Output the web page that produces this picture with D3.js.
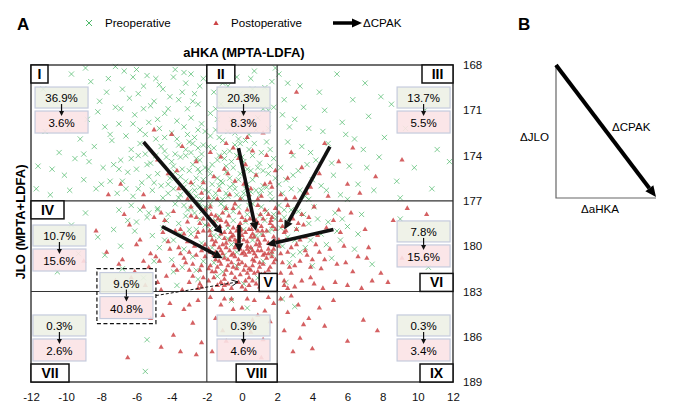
<!DOCTYPE html>
<html>
<head>
<meta charset="utf-8">
<script src="https://cdn.jsdelivr.net/npm/d3@7"></script>
<style>
  body { margin: 0; background: #fff; }
  svg { display: block; font-family: "Liberation Sans", Arial, sans-serif; }
</style>
</head>
<body>
<svg id="chart" width="680" height="417"></svg>
<script>
// zone names and percentages (pre -> post)
const zones = ["I", "II", "III", "IV", "V", "VI", "VII", "VIII", "IX"];
const prePct = [36.9, 20.3, 13.7, 10.7, 9.6, 7.8, 0.3, 0.3, 0.3];
const postPct = [3.6, 8.3, 5.5, 15.6, 40.8, 15.6, 2.6, 4.6, 3.4];

const xTicks = [-12, -10, -8, -6, -4, -2, 0, 2, 4, 6, 8, 10, 12];
const yTicks = [168, 171, 174, 177, 180, 183, 186, 189];
const zoneX = [-2, 2];
const zoneY = [177, 183];

// preoperative points [aHKA, JLO]
const preop = [
  [-11.6,174.7],[-11.2,172.4],[-10.8,174.9],[-10.4,173.8],[-10.1,175.3],[-9.7,168.6],[-9.5,174.2],[-9.2,172.9],[-9.0,175.6],[-8.8,171.6],
  [-8.6,169.1],[-8.4,173.4],[-8.3,176.2],[-8.1,170.4],[-7.9,174.8],[-7.8,172.1],[-7.6,168.9],[-7.5,175.7],[-7.4,173.0],[-7.2,170.8],
  [-7.1,176.5],[-7.0,171.9],[-6.9,174.3],[-6.8,169.6],[-6.7,168.4],[-6.6,172.7],[-6.5,175.1],[-6.4,170.2],[-6.3,173.6],[-6.2,176.7],
  [-6.1,171.3],[-6.0,174.9],[-5.9,169.9],[-5.8,172.3],[-5.7,175.8],[-5.6,170.9],[-5.5,173.9],[-5.4,168.7],[-5.3,171.8],[-5.2,174.5],
  [-5.1,176.3],[-5.0,170.4],[-4.9,172.9],[-4.8,175.2],[-4.7,169.3],[-4.6,173.4],[-4.5,176.8],[-4.4,171.2],[-4.3,174.1],[-4.2,175.9],
  [-4.1,170.1],[-4.0,172.5],[-3.9,174.7],[-3.9,176.2],[-3.8,168.3],[-3.7,171.7],[-3.6,173.3],[-3.5,175.4],[-3.5,176.6],[-3.4,169.8],
  [-3.3,172.1],[-3.2,174.0],[-3.2,175.7],[-3.1,170.9],[-3.0,173.1],[-3.0,176.4],[-2.9,168.6],[-2.9,171.5],[-2.8,174.6],[-2.8,175.9],
  [-2.7,169.9],[-2.7,172.8],[-2.6,174.2],[-2.6,176.7],[-2.5,170.6],[-2.5,173.5],[-2.4,175.1],[-2.4,176.1],[-2.3,171.9],[-2.3,173.9],
  [-2.2,168.9],[-2.2,175.6],[-2.1,172.4],[-2.1,174.8],[-5.3,175.4],[-4.9,174.0],[-4.6,176.0],[-4.4,172.8],[-4.1,175.5],[-3.8,173.9],
  [-3.6,176.8],[-3.4,174.9],[-3.1,172.6],[-2.9,173.8],[-2.7,176.3],[-2.5,174.9],[-6.8,175.7],[-6.3,174.2],[-5.9,176.2],[-5.5,172.6],
  [-7.3,174.6],[-8.0,175.9],[-8.7,174.4],[-9.8,176.3],[-10.9,176.6],[-11.7,176.2],[-7.7,169.8],[-6.2,168.8],[-4.9,168.9],[-3.3,168.5],
  [-5.8,173.2],[-5.4,174.6],[-5.0,175.8],[-4.7,172.2],[-4.4,173.7],[-4.2,176.5],[-4.0,174.4],[-3.8,175.1],[-3.7,172.9],[-3.5,174.1],
  [-3.3,176.1],[-3.2,173.6],[-3.0,175.0],[-2.9,176.9],[-2.8,173.2],[-2.6,175.5],[-2.5,172.3],[-2.4,174.3],[-2.3,176.9],[-2.2,173.3],
  [-2.1,176.3],[-7.5,172.6],[-7.0,174.9],[-6.6,176.2],[-6.2,171.9],[-5.9,174.0],[-5.6,169.4],[-5.2,170.7],[-4.8,171.6],[-4.5,169.6],
  [-4.2,170.9],[-3.9,168.8],[-3.6,170.3],[-3.2,169.2],[-2.8,170.4],[-2.4,169.4],[-6.9,170.9],[-8.2,171.1],[-9.0,173.9],[-9.9,172.2],
  [-10.6,170.4],[-11.3,169.6],[-8.9,168.2],[-7.2,168.1],[-6.0,168.3],
  [-1.9,168.5],[-1.6,169.8],[-1.8,171.2],[-1.5,172.3],[-1.9,173.4],[-1.7,174.6],[-1.4,175.5],[-1.9,176.4],[-1.2,170.6],[-1.1,173.0],
  [-1.0,174.2],[-1.3,176.0],[-0.9,175.1],[-0.8,176.7],[-0.7,173.7],[-0.6,171.6],[-0.5,174.8],[-0.4,176.2],[-0.3,168.8],[-0.2,175.6],
  [-0.1,173.2],[0.0,176.8],[0.1,174.4],[0.2,170.2],[0.3,175.9],[0.4,172.6],[0.5,176.4],[0.6,174.0],[0.7,168.4],[0.8,175.3],
  [0.9,171.5],[1.0,176.6],[1.1,173.8],[1.2,175.0],[1.3,169.5],[1.4,176.1],[1.5,172.2],[1.6,174.7],[1.7,176.9],[1.8,170.8],
  [1.9,175.5],[-1.6,176.8],[-1.1,175.8],[-0.7,175.5],[-0.3,174.0],[0.2,176.2],[0.6,175.6],[1.1,176.3],[1.5,175.2],[-1.8,175.2],
  [-1.3,174.0],[-0.9,176.5],[-0.4,172.5],[0.4,173.6],[0.9,174.8],[1.6,173.6],[-1.5,170.9],[-0.1,169.9],[0.5,168.9],[1.9,168.2],
  [-0.8,169.4],[-1.9,174.9],[-1.8,172.7],[-1.7,175.9],[-1.6,173.5],[-1.5,176.5],[-1.4,174.3],[-1.3,172.8],[-1.2,175.7],[-1.1,176.9],
  [-1.0,173.8],[-0.9,174.7],[-0.8,172.4],[-0.7,176.1],[-0.6,174.4],[-0.5,175.9],[-0.4,173.3],[-0.3,176.6],[-0.2,172.9],[-0.1,175.2],
  [0.0,174.1],[0.1,176.5],[0.2,173.0],[0.3,174.9],[0.4,176.8],[0.5,175.0],[0.7,173.2],[0.8,176.3],[1.0,174.5],[1.2,176.0],
  [1.4,173.1],[1.6,176.5],[1.8,174.2],[-1.7,168.9],[-1.1,169.2],[-0.6,170.4],[0.0,171.3],[0.6,169.6],[1.2,170.9],[1.7,169.1],
  [-1.4,171.6],[0.8,172.3],[-0.2,171.9],[1.5,171.0],
  [2.1,168.6],[2.4,170.3],[2.6,173.1],[2.2,174.8],[2.8,176.2],[3.0,171.6],[3.2,175.0],[3.4,173.4],[3.6,176.7],[2.3,176.5],
  [2.9,174.0],[3.8,172.2],[4.0,175.6],[4.2,174.3],[4.5,176.0],[4.7,171.0],[3.3,169.4],[4.9,173.2],[5.2,175.3],[5.4,168.6],
  [5.6,176.6],[5.9,172.6],[6.1,174.7],[6.3,170.3],[6.6,175.9],[6.9,173.6],[7.2,171.4],[7.5,176.3],[7.8,174.1],[8.1,172.8],
  [8.5,170.6],[8.8,175.7],[9.3,172.2],[9.8,174.8],[10.4,171.0],[11.1,173.6],[11.8,174.4],[10.8,176.2],[9.0,176.8],[2.5,175.6],
  [4.4,169.8],[7.0,169.2],[2.7,172.1],[3.7,174.6],[2.3,171.3],[2.6,169.2],[3.5,170.8],[3.9,173.8],[4.6,172.4],[5.1,174.5],
  [5.7,171.8],[6.4,172.9],[7.1,174.8],[7.9,170.1],[2.1,175.9],[2.9,175.3],[3.3,176.3],[3.8,176.9],[4.8,176.3],[6.0,176.9],
  [-2.1,177.4],[-2.4,178.2],[-2.7,177.8],[-3.0,178.9],[-3.3,177.3],[-3.6,178.5],[-3.9,179.6],[-4.2,177.9],[-4.5,178.8],[-4.8,177.5],
  [-5.1,179.3],[-5.4,178.1],[-5.8,177.6],[-6.1,179.0],[-6.5,178.3],[-6.9,180.0],[-7.3,178.9],[-7.8,180.6],[-8.2,179.4],[-2.3,179.8],
  [-2.8,180.7],[-3.4,181.4],[-2.5,182.2],[-4.0,180.9],[-5.6,182.1],[-6.8,181.5],[-10.5,181.7],[-9.3,180.5],[-3.1,177.6],[-4.7,180.1],
  [-2.2,181.0],[-5.0,181.0],[-3.7,182.6],[-2.9,179.2],[-6.3,177.3],[-4.8,177.6],[-4.3,178.3],[-3.8,177.2],[-3.5,179.2],[-3.2,178.0],
  [-2.9,177.5],[-2.6,178.9],[-2.4,177.2],[-2.1,178.6],[-5.3,177.8],[-6.0,178.4],[-7.0,177.6],[-4.4,179.6],[-3.3,180.2],[-2.6,181.6],
  [-8.9,177.8],[-9.7,178.6],[-3.9,181.7],[-2.3,177.7],
  [-1.9,177.5],[-1.5,178.3],[-1.2,177.2],[-0.8,178.8],[-0.5,177.7],[-0.1,179.4],[0.3,177.9],[0.7,178.6],[1.1,177.4],[1.5,179.0],
  [1.8,177.9],[-1.7,180.1],[-1.0,180.6],[-0.3,181.3],[0.5,180.2],[1.2,181.0],[1.7,180.5],[-1.4,182.0],[0.1,182.5],[0.9,182.1],
  [1.6,182.7],[-0.6,179.9],[0.2,178.4],[-1.8,178.9],[1.9,178.2],[-0.9,177.6],[0.6,177.2],[1.3,178.3],[-1.1,181.7],[-1.8,177.2],
  [-1.6,179.3],[-1.3,178.0],[-1.0,177.4],[-0.8,179.5],[-0.5,178.3],[-0.2,177.4],[0.1,178.9],[0.4,177.3],[0.8,179.3],[1.0,178.0],
  [1.4,177.7],[1.7,178.9],[-1.6,181.1],[0.6,179.6],[-0.3,180.4],[1.1,179.2],[-1.3,179.4],
  [2.1,177.3],[2.4,178.1],[2.8,177.6],[3.1,178.9],[3.5,177.9],[3.8,178.5],[4.1,177.4],[4.5,179.2],[4.9,178.4],[5.3,177.8],
  [5.6,179.6],[6.0,178.7],[6.4,180.2],[6.8,177.9],[2.3,180.0],[2.7,181.1],[3.3,180.4],[4.0,181.3],[2.5,182.4],[7.4,181.2],
  [9.0,178.2],[10.6,181.4],[5.1,180.8],[3.0,179.6],[2.2,178.8],[2.6,179.4],[3.2,177.7],[3.6,180.1],[4.3,178.2],[4.8,179.9],
  [5.7,178.2],[6.6,179.2],[2.9,180.6],[3.9,179.6],[2.4,177.6],[5.4,179.0],
  [-5.4,186.2],[-5.5,188.3],[-0.6,183.6],[0.3,184.1],[2.3,183.5],[3.0,184.0]
];

// postoperative points [aHKA, JLO]
const postop = [
  [-1.8,177.4],[-1.1,177.8],[-0.4,177.2],[0.3,177.6],[0.9,177.3],[1.5,177.9],[1.9,177.5],[-1.5,178.0],[0.0,178.1],[1.2,178.2],
  [-1.9,178.6],[-1.4,178.9],[-0.9,178.4],[-0.5,178.8],[-0.1,178.5],[0.4,178.9],[0.8,178.3],[1.1,178.7],[1.6,178.5],[1.9,178.9],
  [-1.2,178.3],[0.6,178.6],[-0.3,179.0],[1.4,179.0],
  [-1.8,179.3],[-1.5,179.7],[-1.2,179.2],[-0.9,179.8],[-0.6,179.4],[-0.3,179.9],[0.0,179.3],[0.3,179.7],[0.6,179.2],[0.9,179.6],
  [1.2,179.3],[1.5,179.8],[1.8,179.4],[-1.0,179.5],[0.2,179.1],[0.8,179.9],[1.7,179.9],[-0.4,179.6],[-1.6,179.9],
  [-1.9,180.2],[-1.6,180.6],[-1.3,180.1],[-1.0,180.8],[-0.7,180.3],[-0.4,180.7],[-0.1,180.2],[0.2,180.6],[0.5,180.1],[0.8,180.7],
  [1.1,180.3],[1.4,180.8],[1.7,180.4],[1.9,180.9],[-1.1,180.5],[-0.2,180.9],[0.4,180.4],[1.0,180.0],[-0.8,180.9],[0.7,180.5],
  [1.3,180.5],[-1.5,180.9],
  [-1.8,181.3],[-1.5,181.7],[-1.2,181.2],[-0.9,181.6],[-0.6,181.1],[-0.3,181.5],[0.0,181.1],[0.3,181.8],[0.6,181.3],[0.9,181.7],
  [1.2,181.2],[1.5,181.6],[1.8,181.1],[-0.1,181.9],[0.5,181.6],[-1.0,181.9],[1.1,181.9],[-0.5,181.4],[0.2,181.3],
  [-1.9,182.3],[-1.4,182.6],[-1.0,182.2],[-0.6,182.8],[-0.2,182.4],[0.2,182.9],[0.6,182.3],[1.0,182.7],[1.4,182.2],[1.8,182.6],
  [-0.8,182.5],[0.4,182.6],[1.6,182.9],[-1.7,182.9],
  [-0.7,179.6],[0.1,180.4],[0.6,180.9],[-0.4,180.1],[1.0,181.4],[-1.3,181.0],[-0.2,178.7],[0.9,179.0],[-1.6,178.4],[1.3,177.6],
  [0.4,182.1],[-1.1,182.9],[1.7,178.1],[-0.9,177.5],[0.7,181.0],[-0.5,180.5],[0.3,180.0],[1.5,180.2],
  [-1.75,177.9],[-1.35,178.2],[-0.75,178.0],[-0.15,177.8],[0.45,178.2],[1.05,177.9],[1.65,178.3],
  [-1.85,179.0],[-1.25,178.7],[-0.65,179.1],[-0.05,178.9],[0.55,178.9],[1.15,179.0],[1.75,178.7],
  [-1.7,179.6],[-1.1,179.9],[-0.5,179.3],[0.1,179.6],[0.7,179.4],[1.3,179.6],[1.9,179.7],
  [-1.8,180.4],[-1.2,180.3],[-0.6,180.6],[0.0,180.5],[0.6,180.3],[1.2,180.6],[1.8,180.2],
  [-1.4,181.4],[-0.8,181.3],[-0.2,181.2],[0.4,181.5],[1.0,181.1],[1.6,181.4],[-1.7,181.7],
  [-1.6,182.1],[-1.0,182.6],[-0.4,182.1],[0.2,182.3],[0.8,182.5],[1.4,182.6],[1.9,182.1],
  [-0.9,180.1],[-0.3,179.7],[0.3,180.2],[0.9,180.3],[1.5,180.5],[-1.5,180.4],[-0.6,181.8],[0.1,181.6],[0.7,181.8],[1.3,181.8],
  [-1.2,182.4],[0.0,182.7],[1.2,182.9],[-0.1,179.0],[0.5,179.4],[1.0,179.8],[-0.8,178.6],[0.2,178.3],[-1.0,179.1],[1.7,180.7],
  [-1.9,181.5],[0.9,178.5],[-0.5,177.5],
  [-2.1,177.6],[-2.4,178.5],[-2.6,179.4],[-2.3,180.3],[-2.8,181.2],[-2.2,182.1],[-2.5,182.8],[-2.9,178.0],[-3.1,179.7],[-3.3,180.8],
  [-3.0,182.4],[-3.5,178.9],[-3.7,181.6],[-3.9,177.7],[-4.1,180.2],[-4.3,182.0],[-4.5,179.1],[-4.7,181.0],[-5.0,178.1],[-5.2,180.5],
  [-5.5,182.6],[-5.8,179.6],[-6.1,181.7],[-6.4,178.6],[-6.8,180.9],[-7.2,182.3],[-7.7,180.4],[-8.3,179.0],[-2.7,180.0],[-2.2,179.0],
  [-3.4,182.9],[-4.4,178.3],[-2.4,181.6],[-3.6,180.1],[-2.9,177.4],[-3.2,181.1],[-4.8,182.4],[-2.1,180.7],[-3.8,179.0],[-5.6,177.4],
  [-2.6,178.1],[-3.0,180.4],[-4.6,177.8],[-2.3,182.7],[-6.7,177.9],[-5.3,181.4],[-9.0,181.0],
  [-2.2,178.2],[-2.5,179.1],[-2.1,179.9],[-2.6,180.6],[-2.3,181.3],[-2.8,182.0],[-2.4,182.5],[-3.1,178.4],[-3.3,179.2],[-3.0,181.6],
  [-3.5,180.5],[-3.9,181.3],[-4.2,179.7],[-4.9,180.7],[-5.6,181.0],[-6.0,179.9],[-6.3,182.1],[-7.0,181.2],[-4.6,182.9],
  [2.1,177.8],[2.3,178.7],[2.5,179.6],[2.2,180.5],[2.7,181.4],[2.4,182.3],[2.9,178.2],[3.1,179.9],[3.3,181.0],[3.0,182.7],
  [3.5,178.6],[3.7,180.6],[3.9,182.1],[4.1,177.4],[4.3,179.3],[4.5,181.5],[4.8,178.8],[5.0,180.2],[5.3,182.4],[5.6,179.1],
  [5.9,181.1],[6.2,177.8],[6.6,180.7],[7.0,178.9],[7.4,182.3],[7.9,181.8],[8.6,178.3],[9.4,177.5],[2.6,177.3],[2.8,180.1],
  [3.4,177.9],[3.6,179.4],[2.2,181.8],[4.0,180.9],[4.6,182.8],[3.8,178.1],[2.4,179.1],[5.2,178.3],[6.0,182.6],[2.6,182.8],
  [3.2,178.5],[4.4,180.4],[2.1,180.0],[5.5,177.6],[10.5,177.9],[6.8,182.8],[7.2,180.1],
  [2.2,178.3],[2.5,179.0],[2.1,179.6],[2.6,180.4],[2.3,181.1],[2.8,181.8],[2.4,182.6],[3.1,178.9],[3.3,179.6],[3.0,181.3],
  [3.6,180.3],[3.9,181.4],[4.2,179.9],[4.7,180.9],[5.4,181.2],[5.8,180.0],[6.3,181.7],[7.1,180.8],[4.1,182.5],[3.4,182.3],
  [8.3,182.4],[9.1,180.8],
  [-2.5,183.6],[-3.3,184.2],[-4.1,183.8],[-2.8,185.1],[-3.9,185.9],[-4.6,186.7],[-6.5,187.4],[-2.3,186.4],[-5.2,184.8],[-3.5,187.0],
  [-3.0,183.9],[-4.5,184.6],[-2.6,187.2],
  [-1.8,183.4],[-1.2,183.9],[-0.6,183.5],[0.0,184.1],[0.7,183.6],[1.3,184.3],[1.8,183.8],[-1.5,184.8],[-0.3,185.2],[0.5,185.7],
  [1.6,185.0],[-0.9,186.3],[0.2,186.9],[1.1,187.4],[-1.7,187.0],[0.9,184.6],[-1.0,183.5],[0.3,183.5],[1.5,183.4],[-0.5,184.2],
  [0.6,184.9],[-1.1,185.6],[1.2,186.2],
  [2.2,183.5],[2.6,184.4],[3.2,183.9],[3.8,184.8],[2.4,185.6],[3.3,186.1],[4.0,186.8],[4.7,185.3],[6.0,186.3],[7.7,185.6],
  [5.2,183.6],[2.9,187.0],[2.8,183.3],[3.5,185.2],[4.4,184.1],[6.9,184.9],
  [-2.3,176.5],[-2.9,175.8],[-3.6,176.2],[-4.2,175.2],[-4.8,174.3],[-3.4,173.4],[-5.6,176.6],[-6.9,175.9],[-2.6,174.4],[-4.0,172.6],
  [-5.0,172.3],[-3.1,176.9],[-7.6,176.6],[-2.2,175.8],[-3.7,175.0],
  [-1.9,176.8],[-1.6,175.4],[-1.3,176.3],[-1.0,174.9],[-0.7,176.6],[-0.4,175.7],[-0.1,176.9],[0.2,174.6],[0.5,176.2],[0.8,175.3],
  [1.1,176.7],[1.4,174.0],[1.7,176.1],[1.9,175.0],[-1.8,173.8],[-0.9,173.2],[0.3,172.8],[1.2,172.5],[-0.2,174.2],[0.9,176.9],
  [-1.2,174.1],[0.6,173.7],[1.6,175.8],[-0.5,173.5],[0.1,175.9],[-1.4,176.9],[0.4,176.6],[1.3,175.9],[-0.8,175.2],
  [2.2,176.6],[2.6,175.5],[3.0,176.8],[3.4,174.8],[3.9,176.1],[4.4,175.2],[4.9,176.7],[5.5,174.4],[6.0,175.9],[6.7,176.5],
  [7.6,175.4],[9.1,174.3],[2.8,173.8],[4.7,173.2],[6.3,173.5],[3.1,169.8],[2.5,176.9],[3.7,176.5]
];

// mean shift of each zone (pre centroid -> post centroid)
const cpakFrom = [[-5.6,173.1],[-0.2,173.5],[5.0,173.4],[-4.55,178.7],[-0.17,178.6],[5.2,178.9]];
const cpakTo = [[-1.1,179.2],[0.8,179.0],[2.4,178.9],[-1.1,180.8],[-0.17,180.4],[1.4,179.9]];

// layout only (not data)
const labelW = [17, 28, 31, 33, 18, 33, 38, 41, 33];
const labelPos = [[-12,168,"tl"],[-2,168,"tl"],[12,168,"tr"],[-12,177,"tl"],[2,183,"br"],[12,183,"br"],[-12,189,"bl"],[2,189,"br"],[12,189,"br"]];
const boxPos = [[-11.77,169.46],[-1.42,169.46],[8.82,169.46],[-11.89,178.6],[-8.08,181.75],[8.82,178.33],[-11.89,184.56],[-1.42,184.56],[8.82,184.56]];

const svg = d3.select("#chart");
const x = d3.scaleLinear().domain([-12, 12]).range([31, 453]);
const y = d3.scaleLinear().domain([168, 189]).range([65, 382]);

const green = "#4cb868";
const red = "#cc4446";

function arrow(g, x1, y1, x2, y2, w, hl, hw, col) {
    const a = Math.atan2(y2 - y1, x2 - x1);
    const bx = x2 - hl * Math.cos(a), by = y2 - hl * Math.sin(a);
    g.append("line")
        .attr("x1", x1).attr("y1", y1).attr("x2", bx).attr("y2", by)
        .attr("stroke", col).attr("stroke-width", w);
    const px = -Math.sin(a) * hw / 2, py = Math.cos(a) * hw / 2;
    g.append("path")
        .attr("d", `M${x2},${y2}L${bx + px},${by + py}L${bx - px},${by - py}Z`)
        .attr("fill", col);
}

// panel letters + legend
svg.append("text").attr("x", 17).attr("y", 30).attr("font-size", 17).attr("font-weight", "bold").text("A");
svg.append("text").attr("x", 518).attr("y", 30).attr("font-size", 17).attr("font-weight", "bold").text("B");

const leg = svg.append("g");
leg.append("path").attr("d", "M86,20L92,26M92,20L86,26").attr("stroke", green).attr("stroke-width", 1);
leg.append("text").attr("x", 105).attr("y", 27).attr("font-size", 11.6).text("Preoperative");
leg.append("path").attr("d", d3.symbol(d3.symbolTriangle, 12)()).attr("transform", "translate(216,23.5)").attr("fill", red);
leg.append("text").attr("x", 231).attr("y", 27).attr("font-size", 11.6).text("Postoperative");
arrow(leg, 333, 23, 362, 23, 3.5, 10, 9, "#000");
leg.append("text").attr("x", 363).attr("y", 27).attr("font-size", 11.6).text("ΔCPAK");

// titles
svg.append("text").attr("x", 244).attr("y", 57).attr("text-anchor", "middle")
    .attr("font-size", 13).attr("font-weight", "bold").text("aHKA (MPTA-LDFA)");
svg.append("text").attr("transform", "translate(25,222) rotate(-90)").attr("text-anchor", "middle")
    .attr("font-size", 13).attr("font-weight", "bold").text("JLO (MPTA+LDFA)");

// points
svg.append("g").selectAll("path").data(preop).join("path")
    .attr("d", d => `M${x(d[0]) - 2.6},${y(d[1]) - 2.6}l5.2,5.2m0,-5.2l-5.2,5.2`)
    .attr("stroke", green).attr("stroke-width", 1).attr("stroke-opacity", 0.7).attr("fill", "none");

svg.append("g").selectAll("path").data(postop).join("path")
    .attr("d", d3.symbol(d3.symbolTriangle, 12))
    .attr("transform", d => `translate(${x(d[0])},${y(d[1])})`)
    .attr("fill", red).attr("fill-opacity", 0.85);

// zone lines and frame
const grid = svg.append("g").attr("stroke", "#333").attr("stroke-width", 1.1);
zoneX.forEach(v => grid.append("line").attr("x1", x(v)).attr("x2", x(v)).attr("y1", y(168)).attr("y2", y(189)));
zoneY.forEach(v => grid.append("line").attr("y1", y(v)).attr("y2", y(v)).attr("x1", x(-12)).attr("x2", x(12)));
svg.append("rect").attr("x", x(-12)).attr("y", y(168)).attr("width", x(12) - x(-12)).attr("height", y(189) - y(168))
    .attr("fill", "none").attr("stroke", "#333").attr("stroke-width", 1.4);

// axes (plain hyphen minus like the source)
const xAxis = svg.append("g").attr("transform", `translate(0,${y(189)})`)
    .call(d3.axisBottom(x).tickValues(xTicks).tickFormat(d => String(d)).tickSize(0).tickPadding(11));
const yAxis = svg.append("g").attr("transform", `translate(${x(12)},0)`)
    .call(d3.axisRight(y).tickValues(yTicks).tickFormat(d => String(d)).tickSize(0).tickPadding(10));
[xAxis, yAxis].forEach(a => {
    a.select(".domain").remove();
    a.selectAll("text").attr("font-size", 11.5).attr("font-family", null).attr("fill", "#111");
});

// CPAK arrows
const arr = svg.append("g");
cpakFrom.forEach((f, i) => {
    const t = cpakTo[i];
    arrow(arr, x(f[0]), y(f[1]), x(t[0]), y(t[1]), 3.6, 9, 9, "#111");
});

// zone labels
zones.forEach((z, i) => {
    const [lx, ly, c] = labelPos[i];
    const w = labelW[i], h = 18;
    const bx = c[1] === "l" ? x(lx) : x(lx) - w;
    const by = c[0] === "t" ? y(ly) : y(ly) - h;
    svg.append("rect").attr("x", bx).attr("y", by).attr("width", w).attr("height", h)
        .attr("fill", "#fff").attr("stroke", "#111").attr("stroke-width", 1.5);
    svg.append("text").attr("x", bx + w / 2).attr("y", by + 14).attr("text-anchor", "middle")
        .attr("font-size", 14).attr("font-weight", "bold").text(z);
});

// percentage boxes
const bw = 53;
zones.forEach((z, i) => {
    const bx = x(boxPos[i][0]), by = y(boxPos[i][1]);
    const g = svg.append("g");
    if (z === "V") {
        g.append("rect").attr("x", bx - 3).attr("y", by - 4).attr("width", bw + 6).attr("height", 55)
            .attr("fill", "none").attr("stroke", "#111").attr("stroke-width", 1.2).attr("stroke-dasharray", "4,2.5");
    }
    g.append("rect").attr("x", bx).attr("y", by).attr("width", bw).attr("height", 21)
        .attr("fill", "#edf1e5").attr("fill-opacity", 0.9).attr("stroke", "#c5cbdd").attr("stroke-width", 1.2);
    g.append("rect").attr("x", bx).attr("y", by + 24).attr("width", bw).attr("height", 22)
        .attr("fill", "#fbe3e6").attr("fill-opacity", 0.9).attr("stroke", "#c5cbdd").attr("stroke-width", 1.2);
    g.append("text").attr("x", bx + bw / 2).attr("y", by + 15).attr("text-anchor", "middle")
        .attr("font-size", 11.5).text(prePct[i] + "%");
    g.append("text").attr("x", bx + bw / 2).attr("y", by + 40).attr("text-anchor", "middle")
        .attr("font-size", 11.5).text(postPct[i] + "%");
    arrow(g, bx + bw / 2, by + 17, bx + bw / 2, by + 29, 1.2, 5, 5, "#111");
});

// dashed pointer from the V box into zone V
const vb = boxPos[4];
const dx0 = x(vb[0]) + bw + 3, dy0 = y(vb[1]) + 23;
const dx1 = x(-0.23), dy1 = y(182.37);
svg.append("line").attr("x1", dx0).attr("y1", dy0).attr("x2", dx1).attr("y2", dy1)
    .attr("stroke", "#111").attr("stroke-width", 1).attr("stroke-dasharray", "3,2");
{
    const a = Math.atan2(dy1 - dy0, dx1 - dx0);
    const p = (ang) => `${dx1 - 7 * Math.cos(a + ang)},${dy1 - 7 * Math.sin(a + ang)}`;
    svg.append("path").attr("d", `M${p(0.45)}L${dx1},${dy1}L${p(-0.45)}`)
        .attr("fill", "none").attr("stroke", "#111").attr("stroke-width", 1);
}

// panel B
const b = svg.append("g");
b.append("path").attr("d", "M556,65V198H656").attr("fill", "none").attr("stroke", "#666").attr("stroke-width", 1.2);
arrow(b, 556, 65, 656, 197, 4, 11, 10, "#000");
b.append("text").attr("x", 520).attr("y", 141).attr("font-size", 11.6).text("ΔJLO");
b.append("text").attr("x", 612).attr("y", 131).attr("font-size", 11.6).text("ΔCPAK");
b.append("text").attr("x", 600).attr("y", 213).attr("text-anchor", "middle").attr("font-size", 11.6).text("ΔaHKA");
</script>
</body>
</html>
